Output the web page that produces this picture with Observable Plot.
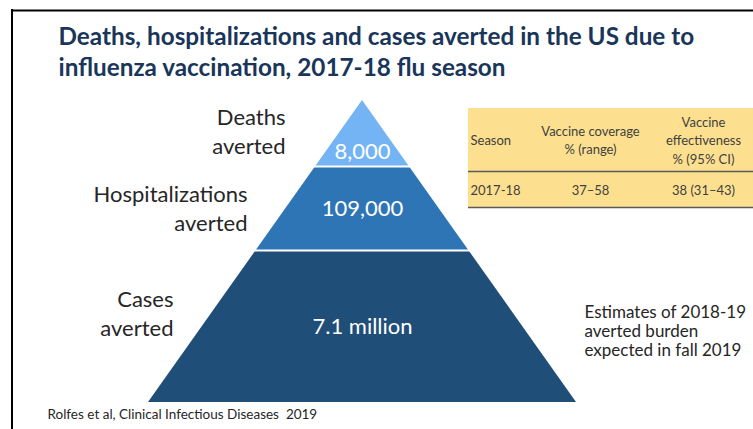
<!DOCTYPE html>
<html>
<head>
<meta charset="utf-8">
<script src="https://cdn.jsdelivr.net/npm/d3@7"></script>
<script src="https://cdn.jsdelivr.net/npm/@observablehq/plot@0.6"></script>
<style>
  html, body { margin: 0; padding: 0; background: #fff; }
  svg { display: block; }
</style>
</head>
<body>
<div id="chart"></div>
<script>
// ---- data ----
const titleLines = ["Deaths, hospitalizations and cases averted in the US due to", "influenza vaccination, 2017-18 flu season"];
const tiers = ["Deaths", "Hospitalizations", "Cases"];
const tierLabels = ["Deaths\naverted", "Hospitalizations\naverted", "Cases\naverted"];
const tierValues = ["8,000", "109,000", "7.1 million"];
const tierColors = ["#74b4f4", "#2e75b6", "#1f4e79"];
const tableHeaders = ["Season", "Vaccine coverage\n% (range)", "Vaccine\neffectiveness\n% (95% CI)"];
const tableRow = ["2017-18", "37–58", "38 (31–43)"];
const note = "Estimates of 2018-19\naverted burden\nexpected in fall 2019";
const caption = "Rolfes et al, Clinical Infectious Diseases  2019";

// ---- layout ----
const W = 753, H = 429;
const apexX = 362, apexY = 100, baseY = 402, halfBase = 214;
const breaks = [100, 166, 250, 402];
const half = y => halfBase * (y - apexY) / (baseY - apexY);

const pyramid = tiers.flatMap((t, i) => [breaks[i], breaks[i + 1]].map(y => ({
  tier: t, y, xl: apexX - half(y), xr: apexX + half(y)
})));
const gaps = [breaks[1], breaks[2]].map(y => ({y, x1: apexX - half(y) - 2, x2: apexX + half(y) + 2}));

const labelPos = [{x: 285, y: 130}, {x: 247, y: 207}, {x: 173, y: 312}];
const valueY = [151, 208, 326];

const tabX0 = 468, tabY0 = 108, tabY1 = 207, tabSep = 171;
const colX = [470, 590, 703];

const font = "Lato, 'Open Sans', sans-serif";
const tableText = {fontSize: 13, lineHeight: 1.4, fill: "#404040", fontFamily: font};

const chart = Plot.plot({
  width: W, height: H,
  margin: 0,
  x: {domain: [0, W], range: [0, W], axis: null},
  y: {domain: [0, H], range: [0, H], axis: null},
  color: {domain: tiers, range: tierColors},
  style: {background: "#fff", fontFamily: font},
  marks: [
    // frame
    Plot.ruleY([10], {x1: 11, x2: W, stroke: "#000", strokeWidth: 2}),
    Plot.ruleX([11.5], {y1: 9, y2: H, stroke: "#000", strokeWidth: 2}),
    // title
    Plot.text(titleLines, {x: 58, y: (d, i) => 37 + i * 31, text: d => d, textAnchor: "start",
      fontSize: 24.3, fontWeight: "bold", fill: "#19365a", fontFamily: font}),
    // pyramid
    Plot.areaX(pyramid, {y: "y", x1: "xl", x2: "xr", z: "tier", fill: "tier"}),
    Plot.ruleY(gaps, {y: "y", x1: "x1", x2: "x2", stroke: "#fff", strokeWidth: 2}),
    Plot.text(tierValues, {x: apexX, y: (d, i) => valueY[i], text: d => d, fill: "#fff",
      fontSize: 22, fontFamily: font}),
    Plot.text(tierLabels, {x: (d, i) => labelPos[i].x, y: (d, i) => labelPos[i].y, text: d => d,
      textAnchor: "end", fontSize: 22, lineHeight: 1.32, fill: "#262626", fontFamily: font}),
    // table
    Plot.rect([0], {x1: tabX0, x2: W, y1: tabY0, y2: tabY1, fill: "#fde08f"}),
    Plot.ruleY([tabSep, tabY1], {x1: tabX0, x2: W, stroke: "#5a5a5a", strokeWidth: 1.5}),
    Plot.text(tableHeaders.slice(0, 1), {x: colX[0], y: 139, text: d => d, textAnchor: "start", ...tableText}),
    Plot.text(tableHeaders.slice(1), {x: (d, i) => colX[i + 1], y: 139, text: d => d, textAnchor: "middle", ...tableText}),
    Plot.text(tableRow.slice(0, 1), {x: colX[0], y: 189, text: d => d, textAnchor: "start", ...tableText}),
    Plot.text(tableRow.slice(1), {x: (d, i) => colX[i + 1], y: 189, text: d => d, textAnchor: "middle", ...tableText}),
    // note
    Plot.text([note], {x: 584, y: 330, text: d => d, textAnchor: "start", fontSize: 17,
      lineHeight: 1.12, fill: "#262626", fontFamily: font}),
    // caption
    Plot.text([caption], {x: 47, y: 414, text: d => d, textAnchor: "start", fontSize: 13.5,
      fill: "#262626", fontFamily: font})
  ]
});
document.getElementById("chart").appendChild(chart);
</script>
</body>
</html>
